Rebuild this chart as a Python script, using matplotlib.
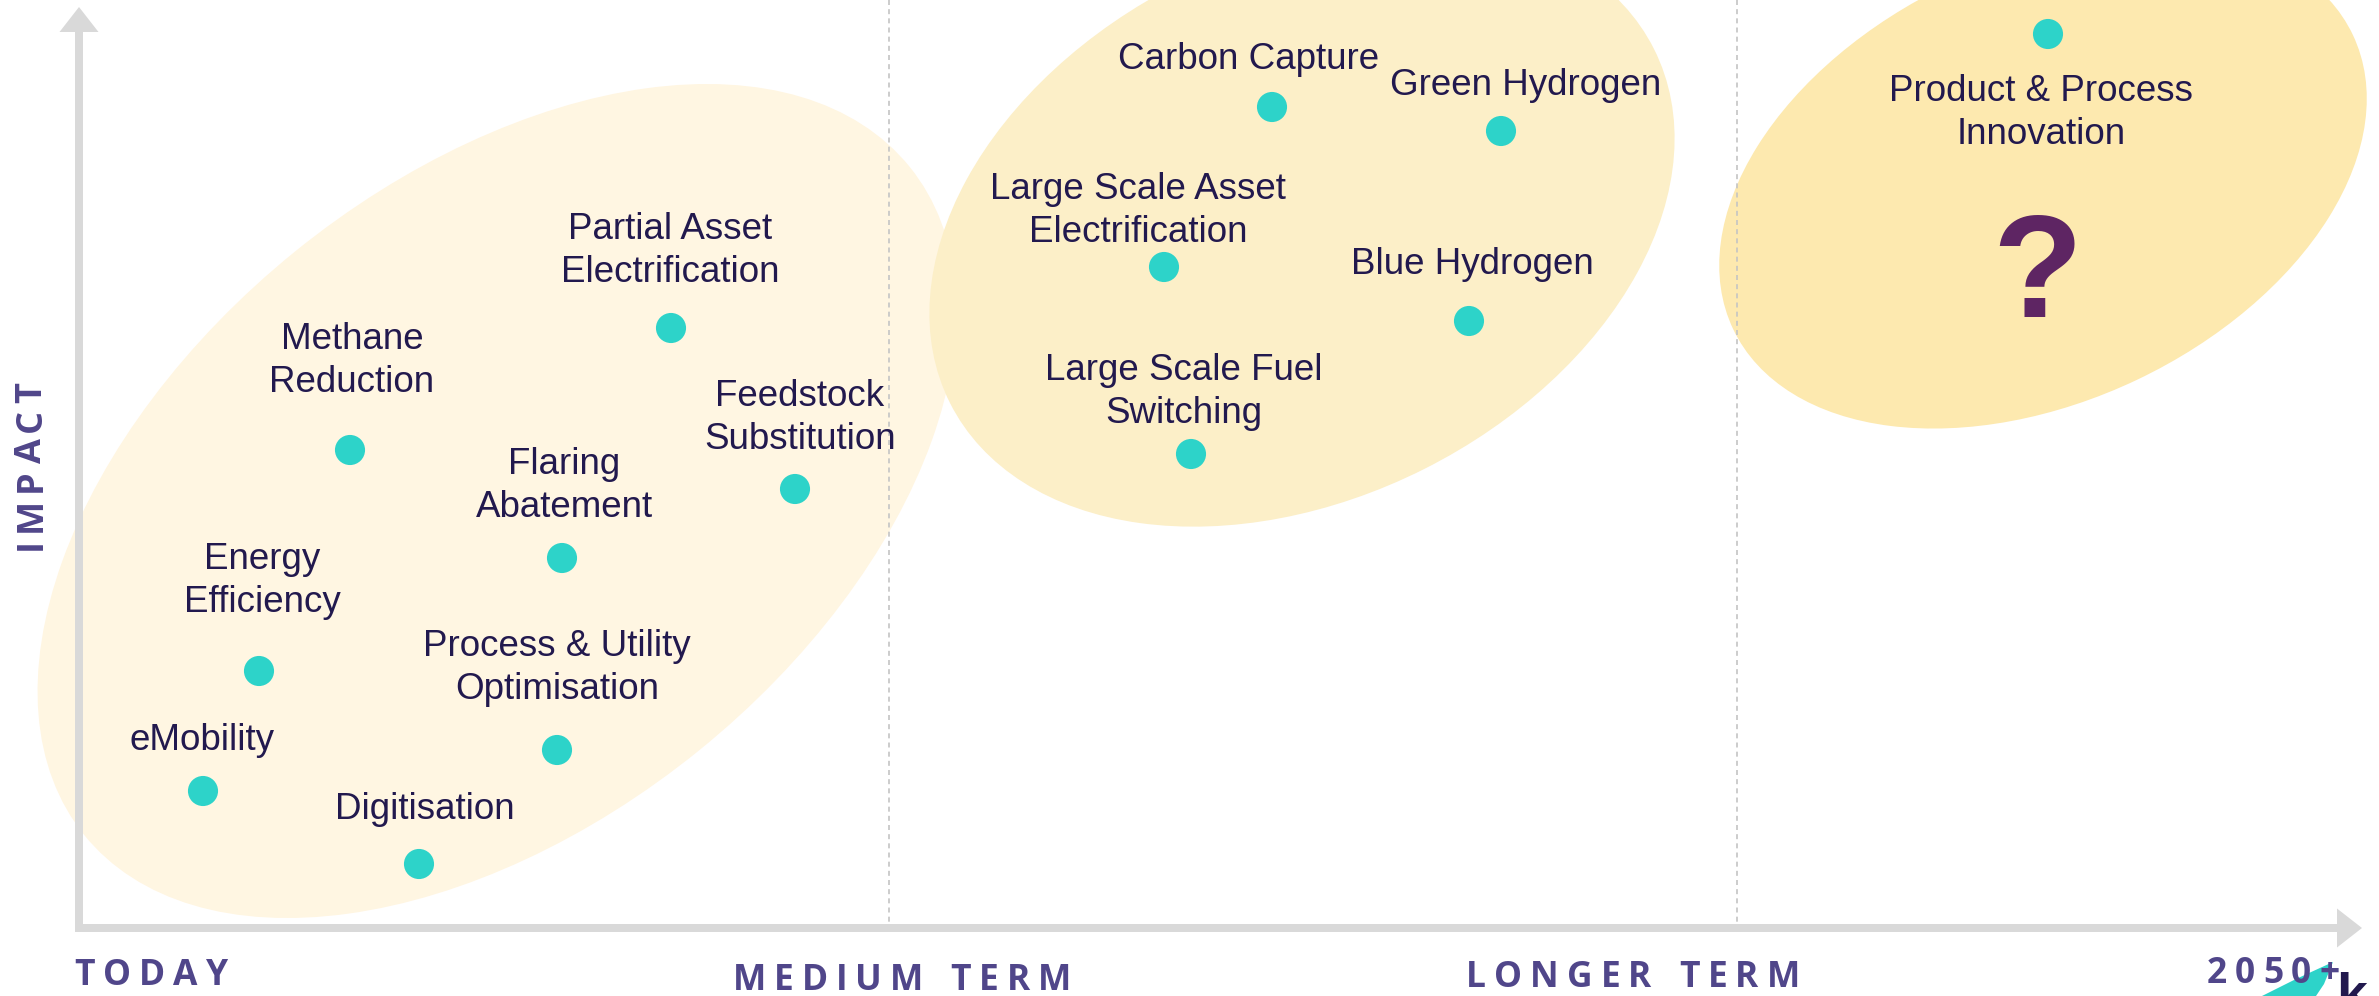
import matplotlib.pyplot as plt
from matplotlib.patches import Ellipse, Polygon

# picture is laid out in pixel units (x right, y down)
W, H = 2379, 996

# solutions: dot position and label
labels = ['Carbon Capture', 'Green Hydrogen', 'Large Scale Asset\nElectrification',
          'Blue Hydrogen', 'Large Scale Fuel\nSwitching', 'Product & Process\nInnovation',
          'Partial Asset\nElectrification', 'Methane\nReduction', 'Feedstock\nSubstitution',
          'Flaring\nAbatement', 'Energy\nEfficiency', 'Process & Utility\nOptimisation',
          'eMobility', 'Digitisation']
dot_x = [1272, 1501, 1164, 1469, 1191, 2048, 671, 350, 795, 562, 259, 557, 203, 419]
dot_y = [107, 131, 267, 321, 454, 34, 328, 450, 489, 558, 671, 750, 791, 864]
lab_x = [1249, 1526, 1138, 1472, 1184, 2041, 670, 352, 800, 564, 262, 557, 202, 425]
lab_y = [58, 84, 210, 263, 391, 112, 250, 360, 417, 485, 580, 667, 739, 808]

# groupings (ellipses): centre, full width/height, tilt (deg, up-right), colour
grp_cx = [497, 1302, 2043]
grp_cy = [501, 226, 182]
grp_w = [1062, 788, 686]
grp_h = [642, 544, 438]
grp_ang = [39, 26.7, 25.4]
grp_col = ['#FFF6E2', '#FCEFC8', '#FDE9AF']

# horizon labels on the time axis
horizons = ['TODAY', 'MEDIUM TERM', 'LONGER TERM', '2050+']
hor_x = [151, 902, 1633, 2273]
hor_y = [985, 990, 987, 983]
dividers = [889, 1737]

txt_col = '#22194E'
purple = '#50468A'
teal = '#2DD3C9'
grey = '#D9D9D9'

fig = plt.figure(figsize=(W / 100, H / 100), dpi=100)
ax = fig.add_axes([0, 0, 1, 1])
ax.set_xlim(0, W)
ax.set_ylim(H, 0)
ax.axis('off')

for cx, cy, w, h, a, c in zip(grp_cx, grp_cy, grp_w, grp_h, grp_ang, grp_col):
    ax.add_patch(Ellipse((cx, cy), w, h, angle=-a, facecolor=c, edgecolor='none', zorder=1))

for x in dividers:
    ax.plot([x, x], [0, 924], color='#C4C4C4', lw=1.2, linestyle=(0, (3, 2.5)), zorder=2)

# axes arrows
ax.arrow(79, 932, 0, -925, width=8, head_width=39, head_length=25,
         length_includes_head=True, color=grey, lw=0, zorder=3)
ax.arrow(75, 928, 2287, 0, width=8, head_width=39, head_length=25,
         length_includes_head=True, color=grey, lw=0, zorder=3)

ax.scatter(dot_x, dot_y, s=470, color=teal, edgecolor='none', zorder=4)
for s, x, y in zip(labels, lab_x, lab_y):
    ax.text(x, y + 1, s, ha='center', va='center', fontsize=26.5, color=txt_col,
            family='Liberation Sans', linespacing=1.3, zorder=5)

ax.text(2037, 279, '?', ha='center', va='center', fontsize=106, fontweight='bold',
        color='#5E2563', family='Liberation Sans', zorder=5)

# letter-spaced captions
r = fig.canvas.get_renderer()


def spaced(s, cx, cy, size, track, vertical=False):
    ws = []
    for ch in s:
        if ch == ' ':
            ws.append(size * 0.45)
            continue
        t = ax.text(0, 0, ch, fontsize=size, fontweight='bold', family='Open Sans')
        ws.append(t.get_window_extent(r).width)
        t.remove()
    total = sum(ws) + track * (len(s) - 1)
    pos = -total / 2
    for ch, w in zip(s, ws):
        c = pos + w / 2
        if vertical:
            ax.text(cx, cy - c, ch, fontsize=size, fontweight='bold', family='Open Sans',
                    color=purple, ha='center', va='baseline', rotation=90,
                    rotation_mode='anchor', zorder=5)
        else:
            ax.text(cx + c, cy, ch, fontsize=size, fontweight='bold', family='Open Sans',
                    color=purple, ha='center', va='baseline', zorder=5)
        pos += w + track


for s, x, y in zip(horizons, hor_x, hor_y):
    spaced(s, x, y, 25.5, 8)
spaced('IMPACT', 41, 466, 26, 6, vertical=True)

# corner logo, cut off by the slide edge
ax.add_patch(Polygon([[2262, 996], [2296, 979], [2333, 962], [2324, 984], [2316, 996]],
                     closed=True, facecolor=teal, edgecolor='none', zorder=4))
ax.text(2336, 1012, 'k', fontsize=40, fontweight='bold', color=txt_col,
        family='Liberation Sans', ha='left', va='baseline', zorder=6)

fig.savefig('out.png', dpi=100)
